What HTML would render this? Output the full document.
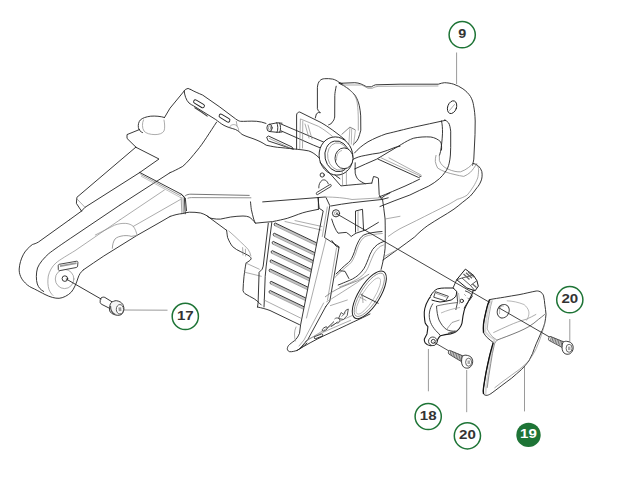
<!DOCTYPE html>
<html><head><meta charset="utf-8">
<style>
html,body{margin:0;padding:0;background:#fff;}
body{width:636px;height:489px;overflow:hidden;}
svg{display:block;}
.t{font-family:"Liberation Sans",sans-serif;font-weight:bold;font-size:13.4px;fill:#333;text-anchor:middle;}
.c{fill:none;stroke:#1e7436;stroke-width:1.5;}
.ld{stroke:#9a9a9a;stroke-width:1;fill:none;}
.k{fill:none;stroke:#222;stroke-width:0.9;stroke-linejoin:round;stroke-linecap:round;}
.g{fill:none;stroke:#888;stroke-width:0.7;stroke-linejoin:round;stroke-linecap:round;}
</style></head><body>
<svg width="636" height="489" viewBox="0 0 636 489">
<g id="labels">
<line class="ld" x1="456.6" y1="52.5" x2="456.6" y2="84"/>
<circle class="c" cx="462.2" cy="34.7" r="13.1"/><text class="t" x="462.2" y="38.0" textLength="8.0" lengthAdjust="spacingAndGlyphs">9</text>
<line class="ld" x1="124" y1="310" x2="167.5" y2="310.2"/>
<circle class="c" cx="185.3" cy="316.4" r="13.1"/><text class="t" x="185.3" y="319.7" textLength="16.8" lengthAdjust="spacingAndGlyphs">17</text>
<line class="ld" x1="428.4" y1="349" x2="428.4" y2="391.3"/>
<circle class="c" cx="428.2" cy="416.5" r="13.1"/><text class="t" x="428.2" y="419.8" textLength="16.8" lengthAdjust="spacingAndGlyphs">18</text>
<line class="ld" x1="466.7" y1="370" x2="466.7" y2="412.2"/>
<circle class="c" cx="467.4" cy="435.8" r="13.1"/><text class="t" x="467.4" y="439.1" textLength="16.8" lengthAdjust="spacingAndGlyphs">20</text>
<line class="ld" x1="524.5" y1="366" x2="524.5" y2="411.4"/>
<circle cx="528.5" cy="434.9" r="12.2" fill="#1e7436"/><text class="t" x="528.5" y="438.2" textLength="16.8" lengthAdjust="spacingAndGlyphs" style="fill:#fff">19</text>
<line class="ld" x1="569.8" y1="319" x2="569.8" y2="341.7"/>
<circle class="c" cx="569.8" cy="299.7" r="13.1"/><text class="t" x="569.8" y="303.0" textLength="16.8" lengthAdjust="spacingAndGlyphs">20</text>
</g>
<g id="body">
<!-- arm end outer -->
<path class="k" d="M69.2,220 L38.5,242 C36,243.5 34,244 32.4,244.5 C29,247 25,251 23.2,254.8 C21,259 19.5,264 19.2,269 C19,274 21,279 25.3,283 C28,286 31,287.5 34.5,289 C38,290.8 42,293 45,294.5 C50,297 55,298.5 59.1,298.3 C63,298 68,295.5 71.3,292.1 C74,289 76.5,283 78,278 C79,275 80.5,272 83.6,269.7"/>
<path class="k" d="M83.6,269.7 C90,265.3 97,260.5 103.8,256 L136.8,235.5 L160,222.3 L170,216.5"/>
<path class="k" d="M69.2,220 L81.5,211.1"/>
<!-- front face left edge curve -->
<path class="k" d="M120,205 L75,235.3 C62,244 52,251 48.7,253.7 C44,258 39.5,263 37.5,268 C36,273 36,280 37.3,284 C38.5,287.5 40.5,289.7 43.7,291.5"/>
<!-- boss front edge -->
<path class="g" d="M120,219.8 L75,250.7 C68,255 60,259.5 55.9,263 C52,266.5 49.5,271 48.3,276 C47.5,281 47.8,286 49,289.5 C50,292 51.3,294 53,295.5"/>
<!-- inner circle -->
<ellipse class="g" cx="64.6" cy="279" rx="9.3" ry="9.6"/>
<circle class="k" cx="64.9" cy="278.6" r="2.8"/>
<!-- slot -->
<path d="M59.2,264.3 L76.8,261.2 C77.7,261.2 78,262 77.9,262.8 L77.6,266.2 C77.5,266.9 77,267.3 76.3,267.5 L59.8,270.6 C59,270.7 58.4,270.2 58.3,269.4 L58.2,265.5 C58.3,264.9 58.7,264.4 59.2,264.3 Z" fill="#fff" stroke="#333" stroke-width="0.9"/>
<path d="M60,266.2 L76.5,263.2" stroke="#999" stroke-width="1.8" fill="none"/>
<!-- leader line -->
<line class="k" x1="66.2" y1="279" x2="101" y2="299"/>
<!-- ledge -->
<path class="k" d="M135.8,147.2 L76.9,197.3 L76.4,203.4 L81.5,211.1"/>
<path class="g" d="M77.2,199.2 L85,207.3"/>
<path class="k" d="M81.5,211.1 L85,207.3 L139.8,172.5"/>
<path class="k" d="M135.8,147.2 L159,159 L139.8,172.5"/>
<!-- ridge -->
<path class="k" d="M139.8,172.5 L181.5,194.3 L185.3,198 L186.5,210.7"/>
<!-- screw 17 -->
<path class="k" d="M101.1,298 C102,297.2 103.5,296.8 104.8,297.4 L112.8,302.3"/>
<path class="k" d="M101.1,298 C100.3,298.8 100.1,300 100.2,301 L100.2,302.6 C100.6,303.5 101,304 101.8,304.4 L109.7,308.4"/>
<path d="M110.3,304.1 C111,302.6 112,301.7 113.4,301.4 C114.5,300.8 115.5,300.6 116.5,300.7 C118,300.9 119.5,301.5 120.8,302.3 C122,303.3 123,304.3 123.2,305.3 C123.9,306.8 124,308.3 123.9,309.6 C123.6,311 123.2,312.3 122.6,313.3 C121.7,314.4 120.8,315 119.6,315.2 C118,315.5 116.6,315.3 115.3,314.9 C113.8,314.4 112.5,313.9 111.6,313.3 C110.7,312.5 110,311.8 109.7,310.9 C109.4,309.7 109.4,308.4 109.7,307.2 C109.8,306 110,305 110.3,304.1 Z" fill="#f4f4f4" stroke="#222" stroke-width="0.9"/>
<path d="M110.5,306 C110.5,310 112,313 115.3,314.6" fill="none" stroke="#555" stroke-width="1.2"/>
<ellipse cx="119.9" cy="309.3" rx="3.6" ry="4.7" fill="#fff" stroke="#333" stroke-width="0.8"/>
<path d="M118.3,307.5 L121.2,307.2 L121.5,311 L118.8,311.3 Z" fill="#999" stroke="none"/>
<!-- bump + lower lines of arm -->
<path d="M112.3,248.7 C112.5,245 113.2,241.5 115,239 C117,237 120,236.2 123.6,235.7 C127,235.4 130,235.8 131.1,236.4 L136.8,235.5" fill="none" stroke="#888" stroke-width="0.8"/>
<path class="g" d="M95.3,235 L114.5,225.2 C118,223.8 122,223.2 125.8,223.4 C129,223.6 131.5,224.8 133.3,226.4 C135,228.5 136.5,232 137.1,235.5"/>
<path class="g" d="M133.3,226.4 L180.4,199.5"/>
<path class="k" d="M120,205 L170,172.7"/>
<path class="g" d="M120,219.8 L164.4,190"/>
<path d="M140.5,174.3 L181,196" stroke="#888" stroke-width="0.8" fill="none"/>
<path d="M141,176.2 L181,197.8" stroke="#aaa" stroke-width="0.7" fill="none"/>
<!-- upper housing -->
<path class="k" d="M136,147.2 L127,138.4 L127,134.6 L139.6,129.5"/>
<!-- knob -->
<path class="k" d="M164.5,117.5 C161,116.3 155,115.8 150.7,116.2 C146,116.8 142.5,118 140.4,119.9 C138.5,122 138,125 138.4,127.5 C138.8,130 140.5,131.8 142.5,132.6"/>
<path class="g" d="M143.5,119.9 C142,123 142,128 144,131 C146,133.5 150,134.5 155,134.6 C159,134.6 162.5,133.5 164,131 C165,128.5 164.8,124 164,120"/>
<path class="k" d="M164.5,117.5 L170,108.2 L185.5,89.4 Q188,87.3 190.5,89.4"/>
<!-- top ridge -->
<path class="k" d="M190.5,89.4 C194,91.5 198,93 202.7,95.1 L219.1,106.5 L235.5,118.8 C237.5,120.3 239,121.1 240.4,121.3 C244,121.6 250,120.8 256.7,121.3 C260,121.6 263,122.3 266,123.4"/>
<!-- inner line top face -->
<path class="k" d="M184.2,91 C184.5,95 186,100 189,103 C190.5,104.3 192,105 193.5,105.8 L215.8,119.6 C218,121.2 221,123.8 224,125.4 C228,127.5 232,128.3 235.5,129.5 C238,130.6 240,132.5 242,134.4 C246,136.5 250,137.5 254,139 C258,140.6 262,142.2 266.2,145.2 C272,146.5 276,147.3 280.9,147.6 C287,148.2 292,148.8 297.3,149.3 C301,149.8 305,150 308.7,150.9 C312,152 314.5,153.8 316.9,155.8 C320,158.5 322.5,161 325.1,164 C327.5,167 329.5,170 331.7,172.2 C334.5,174.8 337,176.8 340,178.7"/>
<path d="M194.5,107.4 C198,109.5 203,112.8 207.6,116.4" fill="none" stroke="#444" stroke-width="1.2"/>
<!-- slots -->
<rect x="193" y="102" width="12" height="3.6" rx="1.8" transform="rotate(31 199 103.8)" class="k"/>
<rect x="218.5" y="116.3" width="12" height="3.6" rx="1.8" transform="rotate(31 224.5 118.1)" class="k"/>
<path class="g" d="M229.5,127 C231,124.5 234,123.8 236.5,125.5 C238,127 238.8,129 238.7,131"/>
<path class="g" d="M236.3,121.3 L237.1,126.2"/>
<!-- front face big curve (continues from arm line) -->
<path class="k" d="M170,172.7 C173,171.5 177,169.5 182.7,166.4 C188,162 192.5,156 197.5,150 C203,143.5 210,132 216.6,122.1"/>
<!-- ridge band right part -->
<path class="k" d="M181.1,194.2 L184.4,197.5 L185.2,213.8"/>
<path d="M182,197 L183.2,213.8" stroke="#e0e0e0" stroke-width="2.2" fill="none"/>
<path class="g" d="M181.1,197.5 L181.9,213.8"/>
<path d="M183.3,197 L183.6,213.8" stroke="#999" stroke-width="0.7" fill="none"/>
<!-- rim -->
<path d="M185.2,195.8 C187,194.5 189,194.2 190.9,194.2 L249.6,195.4" fill="none" stroke="#666" stroke-width="0.9"/>
<path d="M187.6,198.3 C189,197.8 190,197.6 191.5,197.6 L251.3,197.8" fill="none" stroke="#777" stroke-width="0.8"/>
<!-- housing bottom -->
<path class="k" d="M170,216.5 C174,215 178,214 182.7,213.5 C185,213 187,212.3 189.3,212.2 C193,212 197,212.5 200.7,213 C203,213.7 205,214.6 206.5,215.5 C208.5,217 210,218 212,218.5 C215,219 218,219.3 220.4,219.1 C224,218.6 227,217.5 230.7,217 C235,216.5 239,216 243,216 C245.5,216 247.5,216.4 249.1,217 C251.5,218.5 253.5,220.5 255.4,223.2"/>
<path class="k" d="M206.5,215.5 L226.6,230.3"/>
<!-- wedge -->
<path class="k" d="M250.5,201.9 C250.8,205 251,207 251.3,209.3 C252,212.5 252.8,216 253.7,219.1 C254.3,220.8 254.8,222 255.4,223.2 C261,222.6 267,222 272.6,221.6 C278,220.5 283,219.5 287.3,218.3 C291,217.2 295,215.5 298.7,214.2 C301.5,213.2 304,212.3 306.9,211.7 C311,210.8 315,210 318.4,209.3"/>
<path class="k" d="M262.7,201.9 L325.2,197"/>
<path class="k" d="M318.4,209.3 L318.4,197.6"/>
<!-- lower left housing piece -->
<path class="k" d="M226.6,230.3 C227,233 227.2,235.5 227.6,237.5 C229,241 230.8,244.5 232.7,246.7 C235,248.8 238,250.5 240.9,251.8 C244,253.2 247,254.6 249.1,255.9 C250.5,257 251.3,258 251.1,259 C250.5,260 249.8,260.6 249.1,261 C248,261.8 247,262.5 246,263.1 C245.3,267 244.6,271.5 244,276.3 C243.5,281 243.2,286 243,290.7 C243.5,292 244.2,293 245,293.7 C248,295.5 251,297 254.2,298.8 C256,300 257.8,301.5 259.3,303 L261.3,305"/>
<path class="g" d="M228.8,231 C233,234.5 237,238.5 240.8,242.1 C243.5,244.5 246,247 248.1,249.4 C249.5,251.5 250.4,253.5 250.9,255.9 M242.6,247.6 L243,255 M245.4,249.2 L245.6,256"/>
<path class="g" d="M246,263.1 L259.3,269.2 M245,272.3 L261.3,276.3"/>
<!-- handle left upright -->
<path class="k" d="M315.3,118 L316.4,113.9 L318.4,112.5 L320.4,112.8 L318.4,110.8 L317.4,108.7 L317.4,87.3 C317.8,84 318.5,82 319.8,80.8 C321,79.3 322.8,78.8 324.5,78.7 C327,78.5 330,78.6 332.7,79.1 C335,79.6 337,80.8 338.9,82.2 L343,84.2"/>
<path class="k" d="M336.2,86.2 C335.4,90 334.9,93 334.8,95.4 L334.7,117 C334.3,119.3 333.6,120.7 332.5,121.8 C332,123.3 330.5,124.2 328.7,124.8"/>
<!-- handle front (curved) surface -->
<path class="k" d="M338.9,83.2 C342.5,84.8 346,86.8 349,89.3 C351.5,91.3 353.5,93.3 355.2,95.4 C357,98.5 358.5,102 359.3,105.7 C360,109 360.5,112.5 360.7,115.9 L360.8,130.2 C360,133 359.3,136 358.3,138.4 C357,141 355.2,143 353.2,144.5"/>
<path class="g" d="M343,85.2 C347,87.5 350.5,90 353.2,93.4 C355.5,96.5 357,100 357.3,103.6 C358,108 358.3,115 358.3,120 L358.3,130.2"/>
<path d="M341.6,134.5 L349.9,127.1 L351.7,128 L355.4,129.9" fill="none" stroke="#666" stroke-width="0.8"/>
<path d="M349.9,128 L348.9,143.7 M351.7,128.5 L351.3,144.5 M355.4,130 L353.5,145.5" fill="none" stroke="#999" stroke-width="0.7"/>
<!-- handle top bar -->
<path class="k" d="M339.4,83.3 L354.8,82.7 C357,82.8 359,83.2 360.8,83.9 C363,84.8 365,86 366.7,86.8 L371.4,86.8 C372.8,86 374,85.2 375.5,84.8 L400,84.2 L438.3,84.2 C440.5,83.5 442.5,82.8 444.5,82.7 C447.5,82.8 450.5,83.2 453.7,84.2 C457,85.3 460,86.8 462.9,88.8 C466,91 468.5,93.5 470.5,96.5 C472.2,99.5 473.2,102.5 473.6,105.7 C474.5,110 475,115 475.2,121 L475,134.6 L473.8,159.1 C473.5,161.5 473,163.5 472.6,165.2"/>
<path class="g" d="M344.1,85 L361.9,85 C364,86 366,87.5 368,88.3 L372,88.3 C374,87.3 376,86.5 378,86.3 L400,86.2 L438,86"/>
<!-- handle bottom of top bar (sweep) -->
<path class="k" d="M400,130.5 C405,129.3 409,128.2 413.7,127.2 C424,125 435,122.6 445.6,120.3"/>
<!-- handle inner loop -->
<path class="k" d="M441.5,120.9 C442.2,124 442.6,128 442.5,133.2 C442.2,140 441.5,146 440.5,151.6 L439.4,155.7"/>
<path d="M439.4,155 L439.4,160.7 C440.3,162.7 441.3,164.3 442.6,165.6 C444.2,167.2 445.8,168.2 447.6,168.9 C450,170 452.5,170.9 455,171.4 C457,171.8 459,171.9 460.6,171.8 C463.5,170.8 466.3,169.3 468.7,167.4 C470.6,165.9 472.3,164.3 473.6,162.5" fill="none" stroke="#999" stroke-width="0.9"/>
<path d="M436.1,155 C435.5,157 435.2,159.3 435.3,161.5 C435.8,164 436.6,166.2 437.7,168.1 C442,171 448.5,173.3 455,174.6 C458,175.4 461,176 463.8,176.4 C466.3,175.3 468.5,174 470.4,172.3 C472.6,170 474.8,166.8 476.9,163.3" fill="none" stroke="#999" stroke-width="0.9"/>
<ellipse cx="452.1" cy="107.2" rx="4.4" ry="6.6" transform="rotate(20 452.1 107.2)" class="k"/>
<path class="g" d="M449.5,110.5 L454.5,104.5"/>
<!-- handle base upper sweep -->
<path class="k" d="M354.5,153 C358,149 362,145.5 368,141.8 C374,138.5 380,136 386,133.9 C392,132.5 396,131.5 400,130.5"/>
<path class="k" d="M352.3,159.8 C356,157.5 360,156.3 365.8,155.3 C370,154.3 375,153.6 379.3,153 C385,151.5 390,149.3 395,147.4 C397,146.8 398.5,146.5 400,146.3"/>
<!-- tank opening rim -->
<path class="k" d="M354.7,168.9 C362,165.5 369,162.5 376.8,159.1 C385,154.5 393,149 401.4,144.4 C405.5,141.8 409.5,139.5 413.7,138.2 C419,137 425,136.6 430.8,137 C434.5,137.6 438,139.2 440.7,141.9 C441.5,144 441.8,147 441.5,150"/>
<!-- recess floor -->
<path class="k" d="M378,159.1 L418.6,177.5 L421,176.3"/>
<path class="g" d="M381,157.8 L421,176.3 M389,157.9 L421,175"/>
<!-- tank lines A & B -->
<path class="k" d="M379,197 C388,193.5 397,189.5 405,186.1 C410,183.8 415,181.5 419.7,179.1"/>
<path class="k" d="M380,206.5 C390,202.5 400,198.5 409.9,195 C416,192 422.5,189 428.7,186.1 C432.5,184 436.2,181.5 439.4,178.7 C441.5,176.7 443.5,174.5 445.1,172.2 C446.2,170.8 447,169.5 447.6,168.1 C448.3,166.5 448.8,165 449.2,163.2 C449.8,160.5 450.2,157.8 450.4,155 L450.7,147.5 L450.7,131.2 C450.3,128 449.8,125 448.7,123 C447.5,121.5 446,120.5 444.6,119.9"/>
<!-- tank shoulder outer -->
<path class="k" d="M472.8,163.3 C477,164 480.5,167 481.8,171.5 C482.5,175 482,179 481,181 C479.8,184 478.5,186 476.9,187.8 C474.8,191 472.5,193.5 470.4,196 C467.5,198.5 465,200.5 462.2,202.6 C459.5,205 456.8,207 454,209.1 C449.5,212 445.5,214.8 440.9,217.3 C436.5,220 432,222.8 427.8,225.5 C423,229 419,232.5 414.7,236.9 C404,245 394,252 383,260"/>
<path class="g" d="M476.9,164.9 C478,166.5 478.6,168 478.6,169.8 C478.5,173 478.2,176 477.7,178 C476.5,181 475,184 473.6,186.2 C471.5,189.5 469.5,192.5 467.1,195.2 C464,197 460.5,198.5 457.3,199.3 C454.5,201 451.8,202.7 449.1,204.2 C443.5,207 438,209.8 432.7,212.4 C427,215.3 421.5,218 416.4,220.6 C411,223.4 405.5,226 400,228.7 C396,231 392,233.5 388.4,236.3"/>
<!-- front tube (handle bar rod) -->
<path class="k" d="M281,124 L313.6,137.8 L325.1,142.7"/>
<path class="k" d="M281,130.8 L313.6,145.2 L321.8,148.5"/>
<path class="k" d="M269.5,124.3 L277,122.8 L282,123.2 M269.5,131.5 L277,132.3 L282,132"/>
<path class="k" d="M276.8,122.8 C278,124.5 278.3,130 277,132.3 M279.5,123 C280.8,125 281,130 279.7,132.2"/>
<ellipse cx="269.5" cy="127.9" rx="2.6" ry="3.6" class="k"/>
<ellipse cx="269.6" cy="127.9" rx="1.2" ry="2" class="g"/>
<!-- bracket frame -->
<path class="k" d="M296.6,149 L296.6,115 C296.8,113 298,112.2 299.7,112 L321.1,122.6 C328,126.5 337,133 345.3,140"/>
<path class="g" d="M299.7,149 L300.4,118.9 L318.6,126.4 C324,129.5 328.5,133 332.4,136.3 M302.5,148 L302.8,121"/>
<path class="g" d="M305,124 L309,138 M308,125 L312,139"/>
<!-- small bracket under tube -->
<path class="k" d="M267,137 L268.5,136 L292,147 L293.5,149.3 L268.5,141 Z"/>
<path class="g" d="M269.5,138.5 L290,148"/>
<!-- fuel cap -->
<ellipse cx="336" cy="156" rx="16.8" ry="19.2" transform="rotate(-12 336 156)" fill="#fff" stroke="#222" stroke-width="0.9"/>
<ellipse cx="337.5" cy="156.3" rx="12.5" ry="15.5" transform="rotate(-12 337.5 156.3)" class="k"/>
<ellipse cx="338.5" cy="156.5" rx="10.8" ry="13.8" transform="rotate(-12 338.5 156.5)" class="g"/>
<ellipse cx="344" cy="158.3" rx="9" ry="10.4" fill="#fff" stroke="#222" stroke-width="0.9"/>
<path class="g" d="M336.5,160 C336.5,154.5 338.5,151.5 341.5,150.6"/>
<!-- warning icon -->
<circle cx="322.2" cy="175" r="2.1" class="k"/>
<path d="M318.8,188.3 C318.6,184.8 319.8,181.8 322.3,180.2 C324.8,179.2 327.2,180.6 328.4,184.2" fill="none" stroke="#333" stroke-width="0.9"/>
<path d="M316.6,192.6 L330.2,184.4 C331.2,184.2 331.6,185.8 330.9,186.5 L317.4,194.7 C316.4,195 316,193.4 316.6,192.6 Z" fill="#fff" stroke="#333" stroke-width="0.9"/>
<path d="M275.4,224.5 L316.3,244.2" stroke="#c4c4c4" stroke-width="2.2" fill="none"/>
<path class="k" d="M274.9,225.8 C273.8,225.0 274.0,223.2 275.2,223.0 L316.3,242.7"/>
<path class="g" d="M274.9,225.8 L316.3,245.5"/>
<path d="M274.4,234.7 L314.4,254.0" stroke="#c4c4c4" stroke-width="2.2" fill="none"/>
<path class="k" d="M273.9,236.0 C272.8,235.2 273.0,233.4 274.2,233.2 L314.4,252.5"/>
<path class="g" d="M273.9,236.0 L314.4,255.3"/>
<path d="M273.4,242.9 L312.8,261.9" stroke="#c4c4c4" stroke-width="2.2" fill="none"/>
<path class="k" d="M272.9,244.2 C271.8,243.4 272.0,241.6 273.2,241.4 L312.8,260.4"/>
<path class="g" d="M272.9,244.2 L312.8,263.2"/>
<path d="M272.4,252.1 L311.1,270.7" stroke="#c4c4c4" stroke-width="2.2" fill="none"/>
<path class="k" d="M271.9,253.4 C270.8,252.6 271.0,250.8 272.2,250.6 L311.1,269.2"/>
<path class="g" d="M271.9,253.4 L311.1,272.0"/>
<path d="M271.3,261.3 L309.3,279.6" stroke="#c4c4c4" stroke-width="2.2" fill="none"/>
<path class="k" d="M270.8,262.6 C269.7,261.8 269.9,260.0 271.1,259.8 L309.3,278.1"/>
<path class="g" d="M270.8,262.6 L309.3,280.9"/>
<path d="M270.3,270.5 L307.6,288.5" stroke="#c4c4c4" stroke-width="2.2" fill="none"/>
<path class="k" d="M269.8,271.8 C268.7,271.0 268.9,269.2 270.1,269.0 L307.6,287.0"/>
<path class="g" d="M269.8,271.8 L307.6,289.8"/>
<path d="M271.3,282.8 L305.4,299.3" stroke="#c4c4c4" stroke-width="2.2" fill="none"/>
<path class="k" d="M270.8,284.1 C269.7,283.3 269.9,281.5 271.1,281.3 L305.4,297.8"/>
<path class="g" d="M270.8,284.1 L305.4,300.6"/>
<path d="M270.3,292.0 L303.7,308.1" stroke="#c4c4c4" stroke-width="2.2" fill="none"/>
<path class="k" d="M269.8,293.3 C268.7,292.5 268.9,290.7 270.1,290.5 L303.7,306.6"/>
<path class="g" d="M269.8,293.3 L303.7,309.4"/>
<!-- grille left bar -->
<path class="k" d="M268.3,223.2 L263.2,266.1 L262.2,269.2 L259.1,272.3 L258.1,303 L257.5,307"/>
<path class="k" d="M271.8,222.5 L266.2,266.1 L265.2,276.3 L264.2,303 L264,307"/>
<!-- grille top partial slats -->
<path class="g" d="M285,221.5 L321,230 M295,220.6 L322,226.5"/>
<!-- grille bottom -->
<path class="k" d="M257.5,307 C262,308 266,309 270,310.5 L299.5,324.7"/>
<path class="g" d="M264,300 L300.5,318"/>
<!-- front frame (diagonal bar) -->
<path class="k" d="M317.9,197.7 L319.2,208.3 L323.2,210.9 L300.6,324.8 L299.5,333.3 C298,337 296,339.5 294.6,340.6 C292,342.5 290,344 288.5,345.5 C287.5,347 287.2,348.5 287.3,349.2 C287.8,350.7 288.6,351.5 289.7,351.7 C292,351.9 294.5,351.2 297.1,350.4 C300.5,348.5 303.5,346 306.9,343.1"/>
<path class="k" d="M326,197.5 L329.8,205.6 L324.5,237.5 L339.1,246.8 L329.8,301.2 L325.8,306.5"/>
<path class="g" d="M327.3,207 L322.3,236.5 M326,239 L306.5,318 M336.5,248 L327.5,300"/>
<!-- front cover top edge -->
<path class="k" d="M330.9,206 C338,204.8 345,203.5 352.2,202.7 C362,201.6 372,200.5 381.7,199.5 C384,198.9 386,198.4 388.2,197.8"/>
<path class="g" d="M325.2,197 C335,197 345,198 352,199.5 C362,199 372,198.4 381.7,197.8"/>
<!-- upper structure above cover -->
<path class="k" d="M320,162.2 L340.9,185.9 C350,185 362,184 371.8,183.1"/>
<path class="g" d="M342.3,171 L342.6,185.3 M346.4,170.5 L346.4,184.8"/>
<path class="k" d="M355.2,162.8 C355.2,166 355,170 355.2,173.2 C355.7,175.3 356.3,177 357.4,178.7 C358.7,180.2 360.2,181.2 361.8,182 C363,182.7 364,183.3 365.1,183.7"/>
<path class="k" d="M371.8,183.1 L373.5,176.5 C375,176.7 377,177.3 378.4,178.2 L379.2,194.5 C380,196.3 381,198 381.7,199.5"/>
<path class="k" d="M381.7,197.8 C384,196 387,194.3 390,192.9"/>
<!-- bolt hole -->
<circle cx="336" cy="213.3" r="3.6" class="k"/>
<circle cx="336" cy="213.3" r="1.6" class="g"/>
<!-- leader line from hole to part 19 -->

<!-- slot in cover -->
<path class="k" d="M355.5,232.2 L355.5,211 L362.5,209.3 L363.6,230.5"/>
<path class="g" d="M358,231 L358,211.5"/>
<!-- inner cover outline -->
<path class="k" d="M331.7,219.1 C333.5,225 335.5,230 338.1,233.2 C340.5,233 343.5,232.5 346.3,232.4 C348.2,233.5 349.8,235 351.2,236.5 C352.8,235.3 354.5,234 356.1,233.2 C357.8,232.6 359.4,232 361,231.5 C362.6,231 364.3,230.5 365.9,229.9 C370,227.5 374,225 378.4,222.4"/>
<!-- cover right vertical -->
<path class="k" d="M331.9,240.6 L335.9,246 L338.8,247.4"/>
<!-- front cover sweeping curves -->
<path class="k" d="M336.1,273.9 C339,271 343,266.8 348.4,262.6 C351,260.5 352.5,257 354.6,251.4 C355.5,248 356.5,245.5 357.7,243 C359,240 361.2,236.5 363.8,235 C368,233 375,232 382,231.5"/>
<path class="g" d="M337.5,275 C340.5,272 344.5,268 349.6,264 C352.3,261.8 354,258 356,252.5 C357,249 358,246.5 359.2,244 C360.5,241.3 362.5,238.2 365,236.6 C369,234.8 375.5,234 382.3,233.5"/>
<path class="k" d="M338.2,285 C341,284 343,283 345.3,282.1 C348,281 350.5,280 352.5,279 C354.5,277.8 356.8,276.5 358.6,274.9 C360.5,273 362.3,271 363.8,268.8 C365,266.8 366,264.8 366.8,262.6 C368,260 369,257 370,254.4 C371,252.5 371.8,251 372.5,249.6 C374,247.8 375.6,246 377.4,244.6 C379.5,243.2 381.6,242.2 383.9,241.4"/>
<path class="g" d="M339.5,287 C345,285 350,283 354,281 C358,279 361.5,276.5 364.8,273 C367,270 368.5,267 369.5,264 C371,260.5 372.3,257 373.8,254 C375.5,251 378,248 380.5,246.3 L383.5,245"/>
<path d="M325,297 C330,293 336,289.5 341.4,287.2 C347,284.8 352.5,282.8 357.7,280.7 C361.5,278.8 365.5,276.5 369.2,274.1" fill="none" stroke="#777" stroke-width="0.8"/>
<path class="g" d="M326.6,301.8 C333,298 340,293.5 347.9,288.5 C353.5,285 358.8,281.5 363.8,277.9"/>
<path class="k" d="M340.2,270.8 C342,271 343.5,271.1 345,271.3 L348.9,278.5"/>
<path class="g" d="M334.6,278 L340.2,270.8"/>
<path class="k" d="M382.5,199 C383.3,205 384.3,212 385.1,219 C385.3,228 385.3,238 385.1,248.2 C384.5,255 383,262 381.1,269.4"/>
<path class="g" d="M385.1,219 L400,216.3 M385.1,256.1 L400,248.2"/>
<path class="k" d="M297.1,350.4 C305,345.5 315,340 324,335.7 C334,331 344,326.5 353.2,322 C360,319 365,316.5 370,314"/>
<path class="g" d="M305.3,341.7 C312,337.5 319,333 326.6,328.4 C335,323.5 344,319 353.2,315.1"/>
<!-- logo -->
<ellipse cx="324.8" cy="329" rx="3" ry="1.5" transform="rotate(-35 324.8 329)" fill="none" stroke="#444" stroke-width="0.9"/>
<path d="M327.8,327.5 C330,325.5 332,323.5 334,321.5 M331,326.5 C333,325.5 335.5,323.5 337.5,322" fill="none" stroke="#444" stroke-width="1"/>
<path d="M334.5,319 C336,317.5 338,317.5 339.5,319 C340.5,320.5 339.5,322.5 337.5,323.5" fill="none" stroke="#555" stroke-width="0.9"/>
<path d="M338.5,318.5 L341.2,312.5 L343.5,314.5 L345.8,310.3 L348.3,309 L347.2,315.5 L343.5,319.5 Z" fill="none" stroke="#444" stroke-width="0.9"/>
<path d="M341.5,316.5 L345.5,313" stroke="#666" stroke-width="0.8"/>
<path class="k" d="M314.6,336.6 L321.8,333.8 C322.8,333.8 323,335.5 322.2,336.2 L315.2,338.8 C314.2,338.8 313.9,337.3 314.6,336.6 Z"/>
<!-- frame lower lines -->
<path class="k" d="M325.8,306.5 L307.9,339.4 L300,348.4"/>
<path class="g" d="M323.6,303 L304,340 L299,346"/>
<path class="g" d="M330.4,305.6 L347.3,300"/>
<path class="g" d="M307.9,339.4 C320,333.5 335,327 350.7,320.3"/>
<!-- starter cup -->
<ellipse cx="369.3" cy="294.8" rx="27.3" ry="10.6" transform="rotate(-58 369.3 294.8)" fill="#fff" stroke="#222" stroke-width="1"/>
<ellipse cx="369.3" cy="294.8" rx="25" ry="8.6" transform="rotate(-58 369.3 294.8)" fill="none" stroke="#888" stroke-width="0.8"/>
<ellipse cx="368.3" cy="296" rx="21" ry="6" transform="rotate(-58 368.3 296)" fill="none" stroke="#aaa" stroke-width="0.7"/>
<path class="k" d="M361,294.6 L378.2,303.2"/>
<path class="g" d="M362.3,293.5 L363,302.6 M359.5,297 L366,300.5"/>
<!-- small round thing near lower left of frame -->
<path class="g" d="M296,327 C294,331 294,337 295.5,341"/>
<!-- part 18 clamp -->
<path d="M436,291.2 C433,293.5 430.6,296 428.8,299 C427,302 425.6,305 424.8,308.5 C424.2,311 424.1,313.5 424.3,315.9 C424.5,318.5 424.8,321 425.2,323.1 C425.9,324.5 426.8,325.7 427.9,326.7 C427.7,329 427.4,331.5 427,333.9 C426,335.8 425,337.5 424.3,339.3 C424.2,340.6 424.5,341.8 425.2,342.9 C426.6,344.6 428.5,345.6 430.6,345.8 C432.8,345.6 434.7,344.9 436,343.8 C436.9,342.5 437.4,341 437.8,339.3 C438.6,337.8 439.5,336.7 440.5,335.7 C443.5,334.8 447,334.2 450.4,333.9 C452.6,333.2 454.8,332.4 456.7,331.2 C457.7,330.3 458.6,329.4 459.3,328.5 C460.6,326.8 461.5,325 462,323.1 C462.4,320.5 462.7,318.2 463,315.9 C463.5,313.5 464,311 464.7,308.7 C465.8,306.3 467,304 468.3,301.6 C469.5,299.3 470.8,296.8 471.9,294.4 L473.7,289" fill="#fff" stroke="#1a1a1a" stroke-width="1.1"/>
<!-- strap -->
<path d="M430.5,296 C432.5,292.5 434.8,290 437.4,288.9 C440,288.2 442.3,288 444.7,288 L453,288 C454.6,289 455.8,290.3 456.7,291.7 C456.6,293.5 456.3,295 455.8,296.3 C454.5,297.8 453,299 451.2,300 C447.5,301 443.8,301.8 440,302 C437,301.5 434,300.8 431.5,300" fill="#fff" stroke="#1a1a1a" stroke-width="1"/>
<path d="M435.5,291.7 L448.4,296.3 L445.6,300.9 L433.7,297.2 Z" fill="#fff" stroke="#333" stroke-width="0.9"/>
<path d="M436,293.3 L446.5,297.2" stroke="#888" stroke-width="0.8"/>
<path d="M453,288 L456.7,279.7" fill="none" stroke="#222" stroke-width="0.9"/>
<path d="M456.7,291.7 L457.6,301.8 L455.8,310" fill="none" stroke="#333" stroke-width="0.9"/>
<path d="M465,290.8 C467,291.5 469,292.3 470.5,293.5 C471.3,294.4 472,295.3 472.3,296.3 C470.5,299 468.7,301.3 466.8,303.7 L464,308.3" fill="none" stroke="#333" stroke-width="0.9"/>
<path d="M464.5,294.5 L465.5,295.5 M467.5,297.8 L468.5,298.8" stroke="#555" stroke-width="0.9"/>
<!-- rim inner -->
<path d="M433,303.5 C431.2,306 430,309 429.5,312 C429,315.5 429.2,319 430.6,322.5 C431.8,325.5 433.5,328 435.7,330.5 C437.5,332.3 439.2,334 440.5,335.7" fill="none" stroke="#333" stroke-width="0.9"/>
<!-- inner face -->
<path d="M436.5,306 C441,305 447,303.8 452,303.2 L457.5,302.5" fill="none" stroke="#555" stroke-width="0.8"/>
<path d="M436.5,306 C436.8,311 437.5,316 439,320 C441,324 443.5,327.5 446.5,329.5 C449.5,331 452.5,331.5 455.5,331" fill="none" stroke="#333" stroke-width="0.9"/>
<path d="M441,313 C447,310.5 453,308.5 460,307.5" fill="none" stroke="#999" stroke-width="0.7"/>
<path d="M446.5,329.5 L452,322.5 L459.5,320" fill="none" stroke="#777" stroke-width="0.7"/>
<path d="M448,333.5 C451,332.5 454,332 456.7,331.2" fill="none" stroke="#555" stroke-width="1.4"/>
<!-- connector box -->
<path d="M465.4,269.1 L473.3,275.1 L476.9,280.6 L478.3,286.2 L475.1,290.8 L466.8,288 L456.7,279.7 Z" fill="#fff" stroke="#1a1a1a" stroke-width="1"/>
<path d="M456.7,279.7 L462,278 L473.3,275.1 M462,278 L470.5,285.5 L476.9,280.6 M470.5,285.5 L475.1,290.8" fill="none" stroke="#333" stroke-width="0.8"/>
<path d="M463.5,274 L469.5,279.5 M466,272.8 L472,278.3 M468.2,271.8 L474,277" stroke="#666" stroke-width="1.3" fill="none"/>
<path d="M472.5,284 L476.5,287.5" stroke="#666" stroke-width="1.3" fill="none"/>
<circle cx="461.8" cy="300.9" r="1.7" class="k"/>
<path d="M458.5,293 C459,296 459.5,300 459.5,304" fill="none" stroke="#999" stroke-width="0.7"/>
<!-- lug -->
<circle cx="432.8" cy="341.3" r="4.3" fill="#fff" stroke="#333" stroke-width="0.9"/>
<circle cx="433.3" cy="341.4" r="2" fill="#fff" stroke="#222" stroke-width="0.9"/>
<!-- leader from 18 lug to screw 20 -->
<line x1="433.5" y1="342" x2="449" y2="351" stroke="#222" stroke-width="0.8"/>
<!-- screw 20 (lower) -->
<path d="M449.4,350.3 L464.1,356.4 L462,362 L448.8,354 C448,353 448.3,351 449.4,350.3 Z" fill="#e6e6e6" stroke="#333" stroke-width="0.8"/>
<path d="M451,350.6 L450,354.8 M452.5,351.2 L451.5,355.6 M454,351.8 L453,356.5 M455.5,352.5 L454.5,357.4 M457,353.1 L456,358.3 M458.5,353.7 L457.5,359.2 M460,354.3 L459,360 M461.5,355 L460.5,360.9" stroke="#444" stroke-width="0.7" fill="none"/>
<path d="M462.3,356.4 C463.5,355.5 464.8,355 466,355.2 C468,355.4 469.8,356 470.9,357 C472,358.3 472.7,359.8 472.7,361.3 C472.8,363 472.3,364.5 471.5,365.6 C470.5,367 469.3,368 467.8,368.1 C466,368.3 464.6,367.8 463.5,366.9 C462.5,365.8 461.9,364.5 461.7,363.2 C461.4,361 461.6,358.5 462.3,356.4 Z" fill="#fff" stroke="#222" stroke-width="0.9"/>
<ellipse cx="468.6" cy="362.2" rx="3" ry="4" fill="#fff" stroke="#444" stroke-width="0.8"/>
<path d="M467.5,360.5 L470,360.5 L470,364 L467.5,364 Z" fill="#aaa"/>
<!-- cover 19 -->
<path d="M489.6,299.6 C494,298.8 499,298 504.3,297.2 C509,296.3 514,295.5 519,294.7 C525,293.5 531,292 536.2,291 C538,290.8 539.8,291.3 541.1,292.3 C542.5,293.5 543.3,294.8 543.6,296 C544.3,299 544.6,302 544.8,304.5 C545.3,308 545.8,311 546,314.3 C545.8,317 545.4,320 544.8,322.9 C543.8,326.5 542.5,330 541.1,332.7 C539.5,336.5 537.8,340 536.2,343.8 C534.8,347 533.6,350.5 532.5,353.6 C531.3,356 530.2,358.5 528.9,360.9 C526.5,364 524,367 521.5,369.5 C518,372.5 515,375.3 511.7,378.1 C508.5,380.5 505,383 501.9,385.4 C498.5,387.8 495.5,390.5 492.1,392.8 C490.5,394 488.8,395 487.2,395.3 C485.5,395.4 484.2,395 483.5,394 C483.2,392 483.2,390 483.5,387.9 C484.2,383 485,378 485.9,373.2 C487,367.5 488.3,361.5 489.6,356 C490.7,351.5 492,347 493.3,342.5 C491.3,341 489,339.3 487.2,337.6 C485.8,336 484.5,334.5 483.5,332.7 C483.3,329.5 483.3,327 483.5,324.1 C484,320 485,316 485.9,311.9 C486.8,307.5 488,303.5 489.6,299.6 Z" fill="#fff" stroke="#222" stroke-width="0.9"/>
<path d="M490.5,300 C489,306 487.5,312 486.6,318 C485.8,323 485.3,328 485.2,332 C487.5,335 490.5,337.5 494.5,339.3 C493,346 491.5,353 490.3,360 C489,368 487.5,377 486.2,386 L485.5,394" fill="none" stroke="#d8d8d8" stroke-width="2"/>
<path d="M483.5,332.7 C483.3,329.5 483.3,327 483.5,324.1 C484,320 485,316 485.9,311.9 C486.8,307.5 488,303.5 489.6,299.6 M493.3,342.5 C492,347 490.7,351.5 489.6,356 C488.3,361.5 487,367.5 485.9,373.2 C485,378 484.2,383 483.5,387.9 C483.2,390 483.2,392 483.5,394" fill="none" stroke="#111" stroke-width="1.3"/>
<path class="g" d="M492.1,300.8 C491,304.5 490.2,308 489.6,311.9 C488.6,317.5 487.7,323 487.2,329 C488.5,331.8 490.2,334.3 492.1,336.4 C493.7,337.8 495.3,339 497,340.1"/>
<path d="M497,340.1 C500,339 503.5,337.6 506.8,336.4 C511,334.8 515,333.2 519,331.5 C522.5,330 525.8,328.3 528.9,326.6 C532.3,324.4 535.6,322 538.7,319.2 C540.8,317.7 542.8,316 544.8,314.3" fill="none" stroke="#555" stroke-width="0.8"/>
<path d="M497,340.1 C496,341.3 495.2,342.5 494.5,343.8 C493,350 491.8,356.5 490.8,363.4 C489.5,371.5 488.2,379.5 487.2,387.9" fill="none" stroke="#777" stroke-width="0.8"/>
<path d="M493.3,332.7 C498.5,330.2 504,327.6 509.2,325.4 C515,322.8 520.5,320.8 526.4,319.2 C529.8,317.8 533,316 536.2,314.3" fill="none" stroke="#888" stroke-width="0.7"/>
<path d="M506.8,300.8 C512.5,301 518.5,302.3 524,304.5 C526.5,306.5 528.3,309 528.9,311.9 C529.2,314.8 528.3,317.7 526.4,320.5" fill="none" stroke="#999" stroke-width="0.7"/>
<path d="M544.8,322.9 C543,331 540,340 536.2,348.7 C533,355 530,359.5 526.4,363.4 C522,367.5 517,371.5 511.7,375 C506,379 500,383.5 494.5,387.9" fill="none" stroke="#888" stroke-width="0.7"/>
<ellipse cx="503.2" cy="311.2" rx="5.8" ry="7" transform="rotate(25 503.2 311.2)" fill="#fff" stroke="#333" stroke-width="0.9"/>
<path d="M499.4,308.2 C500.5,306.3 502.2,305.6 503.8,306" fill="none" stroke="#888" stroke-width="0.8"/>
<path d="M499.7,308 L499.5,314" fill="none" stroke="#999" stroke-width="0.7"/>
<!-- leader lines near cover -->
<line x1="336" y1="213.4" x2="489.6" y2="302.4" stroke="#222" stroke-width="0.85"/>
<line x1="499" y1="307.9" x2="550" y2="337.3" stroke="#222" stroke-width="0.85"/>
<!-- screw 20 (top right) -->
<path d="M550,336.3 L564,342 L562.2,347.5 L548.8,340.3 C548,339.3 548.6,337 550,336.3 Z" fill="#e6e6e6" stroke="#333" stroke-width="0.8"/>
<path d="M551.5,336.6 L550.5,340.8 M553,337.2 L552,341.6 M554.5,337.8 L553.5,342.4 M556,338.4 L555,343.2 M557.5,339 L556.5,344 M559,339.6 L558,344.8 M560.5,340.2 L559.5,345.6 M562,340.8 L561,346.4" stroke="#444" stroke-width="0.7" fill="none"/>
<path d="M562.8,342.5 C564,341.6 565.3,341.1 566.5,341.3 C568.5,341.5 570.3,342.1 571.4,343.1 C572.5,344.4 573.2,345.9 573.2,347.4 C573.3,349.1 572.8,350.6 572,351.7 C571,353.1 569.8,354.1 568.3,354.2 C566.5,354.4 565.1,353.9 564,353 C563,351.9 562.4,350.6 562.2,349.3 C561.9,347.1 562.1,344.6 562.8,342.5 Z" fill="#fff" stroke="#222" stroke-width="0.9"/>
<ellipse cx="569.1" cy="348.3" rx="3" ry="4" fill="#fff" stroke="#444" stroke-width="0.8"/>
<path d="M568,346.6 L570.5,346.6 L570.5,350.1 L568,350.1 Z" fill="#aaa"/>
</g>
</svg>
</body></html>
